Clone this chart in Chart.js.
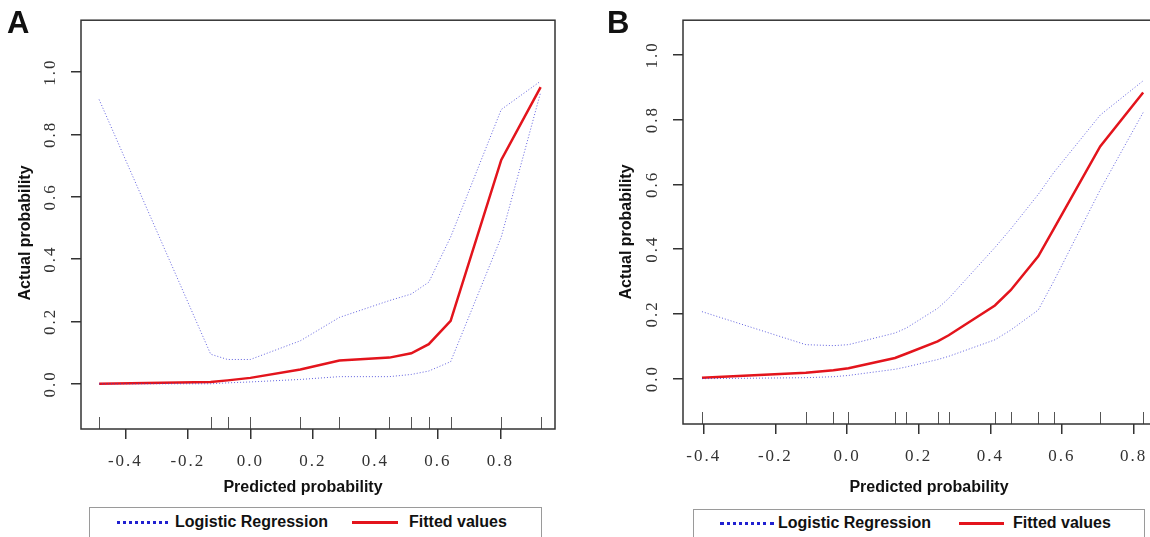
<!DOCTYPE html>
<html>
<head>
<meta charset="utf-8">
<script src="https://cdn.jsdelivr.net/npm/chart.js@4.4.1/dist/chart.umd.min.js"></script>
<style>
  body { margin: 0; width: 1150px; height: 537px; overflow: hidden; background: #fff; position: relative;
         font-family: "Liberation Sans", Arial, sans-serif; color: #111; }
  canvas { position: absolute; top: 0; }
  .letter { position: absolute; font-weight: bold; font-size: 31px; line-height: 1; }
  .title { position: absolute; font-weight: bold; font-size: 16px; line-height: 16px; white-space: nowrap; }
  .legend { position: absolute; height: 40px; border: 1px solid #9a9a9a; box-sizing: border-box; }
  .legend span { position: absolute; font-weight: bold; font-size: 16px; line-height: 16px; white-space: nowrap; }
  .legend i { position: absolute; height: 0; }
</style>
</head>
<body>
<canvas id="chartA" width="575" height="480" style="left:0"></canvas>
<canvas id="chartB" width="600" height="480" style="left:580px"></canvas>

<div class="letter" style="left:7px;top:7px">A</div>
<div class="letter" style="left:607px;top:7px">B</div>

<div class="title" style="left:25px;top:233px;transform:translate(-50%,-50%) rotate(-90deg)">Actual probability</div>
<div class="title" style="left:626px;top:232px;transform:translate(-50%,-50%) rotate(-90deg)">Actual probability</div>
<div class="title" style="left:303px;top:487px;transform:translate(-50%,-50%)">Predicted probability</div>
<div class="title" style="left:929px;top:487px;transform:translate(-50%,-50%)">Predicted probability</div>

<div class="legend" style="left:89px;top:507px;width:453px">
  <i style="left:27px;top:13px;width:51px;border-top:3px dotted #2020d0"></i>
  <span style="left:85px;top:6px">Logistic Regression</span>
  <i style="left:262px;top:13px;width:46px;border-top:3px solid #e3141c"></i>
  <span style="left:319px;top:6px">Fitted values</span>
</div>
<div class="legend" style="left:693px;top:509px;width:452px">
  <i style="left:26px;top:12px;width:54px;border-top:3px dotted #2020d0"></i>
  <span style="left:84px;top:5px">Logistic Regression</span>
  <i style="left:265px;top:12px;width:45px;border-top:3px solid #e3141c"></i>
  <span style="left:319px;top:5px">Fitted values</span>
</div>

<script>
const xTicks = [-0.4, -0.2, 0.0, 0.2, 0.4, 0.6, 0.8];
const yTicks = [0.0, 0.2, 0.4, 0.6, 0.8, 1.0];

// panel A: predicted probability (also the rug) and fitted / CI values
const predA = [-0.484, -0.127, -0.073, 0.0, 0.16, 0.285, 0.445, 0.515, 0.571, 0.641, 0.803, 0.929];
const fitA = [0.0, 0.006, 0.011, 0.019, 0.046, 0.075, 0.084, 0.098, 0.127, 0.202, 0.718, 0.952];
const upperA = [0.912, 0.095, 0.078, 0.078, 0.138, 0.213, 0.267, 0.288, 0.326, 0.471, 0.88, 0.971];
const lowerA = [0.0, 0.0, 0.003, 0.006, 0.014, 0.023, 0.023, 0.03, 0.041, 0.071, 0.471, 0.935];

// panel B
const predB = [-0.405, -0.115, -0.038, 0.004, 0.134, 0.165, 0.253, 0.284, 0.413, 0.457, 0.534, 0.577, 0.707, 0.827];
const fitB = [0.003, 0.018, 0.026, 0.032, 0.064, 0.077, 0.115, 0.134, 0.226, 0.273, 0.378, 0.462, 0.717, 0.884];
const upperB = [0.207, 0.105, 0.102, 0.105, 0.141, 0.156, 0.217, 0.248, 0.405, 0.462, 0.569, 0.636, 0.814, 0.92];
const lowerB = [0.0, 0.003, 0.006, 0.01, 0.029, 0.036, 0.059, 0.069, 0.12, 0.15, 0.212, 0.3, 0.583, 0.822];

const axisColor = "#333";
const ciColor = "rgba(60, 60, 215, 0.8)";
const fitColor = "#e3141c";

// box round the plot, rug marks at the predicted values, spaced tick labels
const framePlugin = {
  id: "frame",
  beforeDraw(chart) {
    chart.ctx.letterSpacing = "2px";
  },
  beforeDatasetsDraw(chart) {
    chart.ctx.letterSpacing = "0px";
  },
  afterDraw(chart, args, opts) {
    const { ctx, chartArea: a, scales } = chart;
    ctx.save();
    ctx.strokeStyle = "#555";
    ctx.lineWidth = 1;
    opts.rug.forEach((v) => {
      const px = Math.round(scales.x.getPixelForValue(v)) + 0.5;
      ctx.beginPath();
      ctx.moveTo(px, a.bottom);
      ctx.lineTo(px, a.bottom - 12);
      ctx.stroke();
    });
    ctx.strokeStyle = axisColor;
    ctx.lineWidth = 1.5;
    ctx.strokeRect(a.left, a.top, a.right - a.left, a.bottom - a.top);
    ctx.restore();
  },
};

function makePanel(id, pred, fit, upper, lower, opt) {
  const pts = (ys) => pred.map((x, i) => ({ x: x, y: ys[i] }));
  const ciLine = {
    borderColor: ciColor,
    borderWidth: 1,
    borderDash: [1, 2],
    pointRadius: 0,
    tension: 0,
  };
  return new Chart(document.getElementById(id), {
    type: "line",
    data: {
      datasets: [
        Object.assign({ label: "Upper", data: pts(upper) }, ciLine),
        Object.assign({ label: "Lower", data: pts(lower) }, ciLine),
        {
          label: "Fitted values",
          data: pts(fit),
          borderColor: fitColor,
          borderWidth: 2.5,
          pointRadius: 0,
          tension: 0,
        },
      ],
    },
    options: {
      responsive: false,
      animation: false,
      devicePixelRatio: 1,
      layout: { padding: { top: opt.top, right: 20, left: 0, bottom: 0 } },
      plugins: {
        legend: { display: false },
        tooltip: { enabled: false },
        frame: { rug: pred },
      },
      scales: {
        x: {
          type: "linear",
          min: opt.xmin,
          max: opt.xmax,
          afterBuildTicks: (s) => { s.ticks = xTicks.map((v) => ({ value: v })); },
          afterFit: (s) => { s.height = opt.xh; },
          border: { display: false },
          grid: { drawOnChartArea: false, drawTicks: true, tickLength: 10, color: axisColor, lineWidth: 1.5 },
          ticks: {
            color: "#333",
            padding: 12,
            maxRotation: 0,
            font: { family: "Liberation Serif", size: 17 },
            callback: (v) => v.toFixed(1),
          },
        },
        y: {
          type: "linear",
          min: opt.ymin,
          max: opt.ymax,
          afterBuildTicks: (s) => { s.ticks = yTicks.map((v) => ({ value: v })); },
          afterFit: (s) => { s.width = opt.yw; },
          border: { display: false },
          grid: { drawOnChartArea: false, drawTicks: true, tickLength: 10, color: axisColor, lineWidth: 1.5 },
          ticks: {
            color: "#333",
            padding: 10,
            minRotation: 90,
            maxRotation: 90,
            crossAlign: "center",
            font: { family: "Liberation Serif", size: 17 },
            callback: (v) => v.toFixed(1),
          },
        },
      },
    },
    plugins: [framePlugin],
  });
}

makePanel("chartA", predA, fitA, upperA, lowerA,
  { xmin: -0.542, xmax: 0.975, ymin: -0.145, ymax: 1.1665, top: 11, xh: 51, yw: 81 });
makePanel("chartB", predB, fitB, upperB, lowerB,
  { xmin: -0.458, xmax: 0.874, ymin: -0.14, ymax: 1.107, top: 6, xh: 56, yw: 103 });
</script>
</body>
</html>
